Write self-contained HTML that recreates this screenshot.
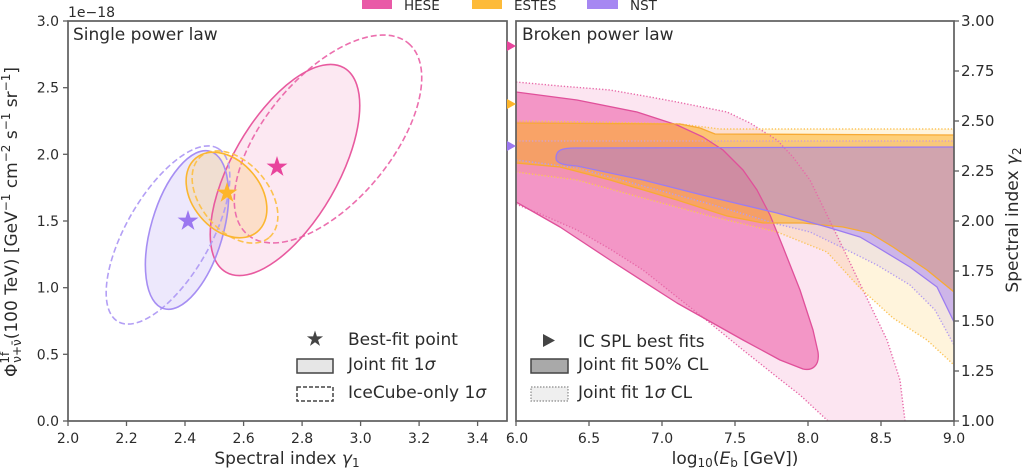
<!DOCTYPE html>
<html><head><meta charset="utf-8">
<style>
html,body{margin:0;padding:0;background:#fff}
svg{display:block}
text{font-family:"DejaVu Sans","Liberation Sans",sans-serif;fill:#2b2b2b}
</style></head>
<body>
<svg xmlns="http://www.w3.org/2000/svg" width="1024" height="471" viewBox="0 0 1024 471">
<defs>
<clipPath id="cr"><rect x="516" y="21" width="438" height="400"/></clipPath>
<clipPath id="cl"><rect x="68" y="21" width="439" height="400"/></clipPath>
</defs>
<rect width="1024" height="471" fill="#fff"/>

<!-- top legend -->
<rect x="362" y="-3" width="30" height="12" fill="#e95aa7"/>
<text x="404" y="10" font-size="13.5">HESE</text>
<rect x="472" y="-3" width="30" height="12" fill="#fdbb3a"/>
<text x="514" y="10" font-size="13.5">ESTES</text>
<rect x="587" y="-3" width="31" height="12" fill="#a687f2"/>
<text x="630" y="10" font-size="13.5">NST</text>

<!-- ============ LEFT PANEL ============ -->
<g clip-path="url(#cl)" stroke-width="1.6" stroke-linejoin="round">
  <ellipse cx="285" cy="170" rx="118" ry="53" transform="rotate(-60 285 170)" fill="rgba(231,41,138,0.11)" stroke="none"/>
  <ellipse cx="187" cy="230" rx="82" ry="36" transform="rotate(-73.6 187 230)" fill="rgba(150,120,240,0.17)" stroke="none"/>
  <ellipse cx="226.5" cy="195" rx="48" ry="34" transform="rotate(50 226.5 195)" fill="rgba(253,184,39,0.2)" stroke="none"/>
  <ellipse cx="328" cy="139" rx="125" ry="63" transform="rotate(-50 328 139)" fill="none" stroke="#ec6fae" stroke-dasharray="6,3"/>
  <ellipse cx="285" cy="170" rx="118" ry="53" transform="rotate(-60 285 170)" fill="none" stroke="#e85a9f"/>
  <ellipse cx="168" cy="235" rx="100" ry="42" transform="rotate(-60 168 235)" fill="none" stroke="#b39ff5" stroke-dasharray="6,3"/>
  <ellipse cx="187" cy="230" rx="82" ry="36" transform="rotate(-73.6 187 230)" fill="none" stroke="#a68ef3"/>
  <ellipse cx="235" cy="197" rx="53" ry="34" transform="rotate(50 235 197)" fill="none" stroke="#fcc24f" stroke-dasharray="6,3"/>
  <ellipse cx="226.5" cy="195" rx="48" ry="34" transform="rotate(50 226.5 195)" fill="none" stroke="#fbb630"/>
  <path transform="translate(277,167) scale(11)" d="M0,-1 L0.2245,-0.309 L0.951,-0.309 L0.363,0.118 L0.588,0.809 L0,0.382 L-0.588,0.809 L-0.363,0.118 L-0.951,-0.309 L-0.2245,-0.309Z" fill="#e8449c"/>
  <path transform="translate(227,193) scale(11)" d="M0,-1 L0.2245,-0.309 L0.951,-0.309 L0.363,0.118 L0.588,0.809 L0,0.382 L-0.588,0.809 L-0.363,0.118 L-0.951,-0.309 L-0.2245,-0.309Z" fill="#fdb52a"/>
  <path transform="translate(188,221) scale(11)" d="M0,-1 L0.2245,-0.309 L0.951,-0.309 L0.363,0.118 L0.588,0.809 L0,0.382 L-0.588,0.809 L-0.363,0.118 L-0.951,-0.309 L-0.2245,-0.309Z" fill="#9b77f0"/>
</g>

<!-- left legend -->
<path transform="translate(315,339) scale(8.5)" d="M0,-1 L0.2245,-0.309 L0.951,-0.309 L0.363,0.118 L0.588,0.809 L0,0.382 L-0.588,0.809 L-0.363,0.118 L-0.951,-0.309 L-0.2245,-0.309Z" fill="#444"/>
<text x="348" y="345" font-size="17">Best-fit point</text>
<rect x="297" y="359" width="36" height="14" fill="#e6e6e6" stroke="#444" stroke-width="1.5"/>
<text x="348" y="370" font-size="17">Joint fit 1<tspan font-style="italic">σ</tspan></text>
<rect x="297" y="387" width="36" height="14" fill="none" stroke="#444" stroke-width="1.5" stroke-dasharray="4,2"/>
<text x="348" y="398" font-size="17">IceCube-only 1<tspan font-style="italic">σ</tspan></text>

<text x="73" y="40" font-size="17">Single power law</text>
<text x="68" y="17" font-size="14">1e−18</text>

<!-- left frame -->
<rect x="68" y="21" width="439" height="400" fill="none" stroke="#5e5e5e" stroke-width="1.7"/>
<g stroke="#5e5e5e" stroke-width="1.3">
  <line x1="63" y1="21" x2="68" y2="21"/><line x1="63" y1="87.7" x2="68" y2="87.7"/>
  <line x1="63" y1="154.3" x2="68" y2="154.3"/><line x1="63" y1="221" x2="68" y2="221"/>
  <line x1="63" y1="287.7" x2="68" y2="287.7"/><line x1="63" y1="354.3" x2="68" y2="354.3"/>
  <line x1="63" y1="421" x2="68" y2="421"/>
  <line x1="68" y1="421" x2="68" y2="426"/><line x1="126.5" y1="421" x2="126.5" y2="426"/>
  <line x1="185" y1="421" x2="185" y2="426"/><line x1="243.6" y1="421" x2="243.6" y2="426"/>
  <line x1="302.1" y1="421" x2="302.1" y2="426"/><line x1="360.6" y1="421" x2="360.6" y2="426"/>
  <line x1="419.1" y1="421" x2="419.1" y2="426"/><line x1="477.6" y1="421" x2="477.6" y2="426"/>
</g>
<g font-size="14" text-anchor="end">
  <text x="59" y="26">3.0</text><text x="59" y="92.7">2.5</text><text x="59" y="159.3">2.0</text>
  <text x="59" y="226">1.5</text><text x="59" y="292.7">1.0</text><text x="59" y="359.3">0.5</text>
  <text x="59" y="426">0.0</text>
</g>
<g font-size="14" text-anchor="middle">
  <text x="68" y="443">2.0</text><text x="126.5" y="443">2.2</text><text x="185" y="443">2.4</text>
  <text x="243.6" y="443">2.6</text><text x="302.1" y="443">2.8</text><text x="360.6" y="443">3.0</text>
  <text x="419.1" y="443">3.2</text><text x="477.6" y="443">3.4</text>
</g>
<text x="287" y="464" font-size="17" text-anchor="middle">Spectral index <tspan font-style="italic">γ</tspan><tspan font-size="12" dy="3">1</tspan></text>

<text transform="translate(17,222) rotate(-90)" text-anchor="middle" font-size="17">Φ<tspan font-size="12" dy="-8">1f</tspan><tspan font-size="12" dx="-11" dy="12">ν+ν̄</tspan><tspan dy="-4">(100 TeV) [GeV</tspan><tspan font-size="12" dy="-7">−1</tspan><tspan dy="7"> cm</tspan><tspan font-size="12" dy="-7">−2</tspan><tspan dy="7"> s</tspan><tspan font-size="12" dy="-7">−1</tspan><tspan dy="7"> sr</tspan><tspan font-size="12" dy="-7">−1</tspan><tspan dy="7">]</tspan></text>

<!-- ============ RIGHT PANEL ============ -->
<g clip-path="url(#cr)" stroke-linejoin="round">
  <path d="M516,82 L560,86 L610,90 L650,97 L677,102 L727,112 L750,123 L777,140 L793,157 L810,180 L827,215 L843,248 L863,290 L887,340 L900,380 L905,421 L828,421 L800,395 L777,377 L743,350 L710,323 L677,297 L643,270 L610,249 L577,230 L545,216 L516,204 Z" fill="rgba(231,41,138,0.12)"/>
  <path d="M516,121 L600,122 L680,124 L720,129 L954,129 L954,365 L927,340 L893,318 L860,288 L827,252 L777,232 L710,216 L643,198 L577,180 L516,172 Z" fill="rgba(253,184,39,0.16)"/>
  <path d="M516,141 L954,141 L954,345 L935,310 L910,285 L877,265 L843,248 L810,232 L777,224 L710,204 L643,186 L577,168 L516,160 Z" fill="rgba(150,120,240,0.12)"/>
  <path d="M516,92 L577,100 L637,112 L677,125 L703,137 L723,150 L743,170 L757,190 L770,215 L783,247 L800,290 L813,330 L818,352 C820,366 812,371 803,369 L780,360 L743,340 L677,303 L610,260 L560,227 L516,202 Z" fill="rgba(231,41,138,0.42)"/>
  <path d="M516,123 L680,124 L700,128 L715,134 L954,135 L954,292 L927,270 L893,247 L870,233 L843,227 L803,223 L763,223 L727,216 L677,200 L610,180 L560,167 L516,163 Z" fill="rgba(253,176,40,0.55)"/>
  <path d="M556,158 C556,150 562,148 575,148 L954,147 L954,322 L937,287 L910,267 L877,247 L860,237 L827,227 L777,213 L710,197 L643,180 L577,166 C562,165 556,163 556,158 Z" fill="rgba(155,115,245,0.42)"/>
  <g fill="none" stroke-width="1.4" stroke-dasharray="1.3,1.9">
    <path d="M516,82 L560,86 L610,90 L650,97 L677,102 L727,112 L750,123 L777,140 L793,157 L810,180 L827,215 L843,248 L863,290 L887,340 L900,380 L905,421" stroke="#e86aa9"/>
    <path d="M516,204 L545,216 L577,230 L610,249 L643,270 L677,297 L710,323 L743,350 L777,377 L800,395 L828,421" stroke="#e86aa9"/>
    <path d="M516,121 L600,122 L680,124 L720,129 L954,129" stroke="#fbc45a"/>
    <path d="M516,172 L577,180 L643,198 L710,216 L777,232 L827,252 L860,288 L893,318 L927,340 L954,365" stroke="#fbc45a"/>
    <path d="M516,141 L954,141" stroke="#d4a0c8"/>
    <path d="M516,160 L577,168 L643,186 L710,204 L777,224 L810,232 L843,248 L877,265 L910,285 L935,310 L954,345" stroke="#b49cf0"/>
  </g>
  <g fill="none" stroke-width="1.3">
    <path d="M516,92 L577,100 L637,112 L677,125 L703,137 L723,150 L743,170 L757,190 L770,215 L783,247 L800,290 L813,330 L818,352 C820,366 812,371 803,369 L780,360 L743,340 L677,303 L610,260 L560,227 L516,202" stroke="#e0509a"/>
    <path d="M516,123 L680,124 L700,128 L715,134 L954,135" stroke="#f7aa35"/>
    <path d="M954,292 L927,270 L893,247 L870,233 L843,227 L803,223 L763,223 L727,216 L677,200 L610,180 L560,167 L516,163" stroke="#f7aa35"/>
    <path d="M556,158 C556,150 562,148 575,148 L954,147 M954,322 L937,287 L910,267 L877,247 L860,237 L827,227 L777,213 L710,197 L643,180 L577,166 C562,165 556,163 556,158" stroke="#9c7cf0"/>
  </g>
</g>

<text x="522" y="40" font-size="17">Broken power law</text>

<!-- right legend -->
<polygon points="543,334 543,347 555,340.5" fill="#444"/>
<text x="578" y="347" font-size="17">IC SPL best fits</text>
<rect x="531" y="359" width="37" height="14" fill="#a9a9a9" stroke="#444" stroke-width="1.5"/>
<text x="578" y="370" font-size="17">Joint fit 50% CL</text>
<rect x="531" y="387" width="37" height="14" fill="#efefef" stroke="#8a8a8a" stroke-width="1.2" stroke-dasharray="1.5,1.5"/>
<text x="578" y="398" font-size="17">Joint fit 1<tspan font-style="italic">σ</tspan> CL</text>

<!-- right frame -->
<rect x="516" y="21" width="438" height="400" fill="none" stroke="#5e5e5e" stroke-width="1.7"/>
<g stroke="#5e5e5e" stroke-width="1.3">
  <line x1="954" y1="21" x2="959" y2="21"/><line x1="954" y1="71" x2="959" y2="71"/>
  <line x1="954" y1="121" x2="959" y2="121"/><line x1="954" y1="171" x2="959" y2="171"/>
  <line x1="954" y1="221" x2="959" y2="221"/><line x1="954" y1="271" x2="959" y2="271"/>
  <line x1="954" y1="321" x2="959" y2="321"/><line x1="954" y1="371" x2="959" y2="371"/>
  <line x1="954" y1="421" x2="959" y2="421"/>
  <line x1="516" y1="421" x2="516" y2="426"/><line x1="589" y1="421" x2="589" y2="426"/>
  <line x1="662" y1="421" x2="662" y2="426"/><line x1="735" y1="421" x2="735" y2="426"/>
  <line x1="808" y1="421" x2="808" y2="426"/><line x1="881" y1="421" x2="881" y2="426"/>
  <line x1="954" y1="421" x2="954" y2="426"/>
</g>
<g font-size="15">
  <text x="961" y="26">3.00</text><text x="961" y="76">2.75</text><text x="961" y="126">2.50</text>
  <text x="961" y="176">2.25</text><text x="961" y="226">2.00</text><text x="961" y="276">1.75</text>
  <text x="961" y="326">1.50</text><text x="961" y="376">1.25</text><text x="961" y="426">1.00</text>
</g>
<g font-size="14" text-anchor="middle">
  <text x="517" y="443">6.0</text><text x="589" y="443">6.5</text><text x="662" y="443">7.0</text>
  <text x="735" y="443">7.5</text><text x="808" y="443">8.0</text><text x="881" y="443">8.5</text>
  <text x="954" y="443">9.0</text>
</g>
<text x="735" y="464" font-size="17" text-anchor="middle">log<tspan font-size="12" dy="3">10</tspan><tspan dy="-3">(</tspan><tspan font-style="italic">E</tspan><tspan font-size="12" dy="3">b</tspan><tspan dy="-3"> [GeV])</tspan></text>
<text transform="translate(1018,220) rotate(-90)" text-anchor="middle" font-size="17">Spectral index <tspan font-style="italic">γ</tspan><tspan font-size="12" dy="3">2</tspan></text>

<polygon points="507,41 507,51 516,46" fill="#e8449c"/>
<polygon points="507,99 507,109 516,104" fill="#fdb52a"/>
<polygon points="507,141 507,151 516,146" fill="#9b77f0"/>
</svg>
</body></html>
